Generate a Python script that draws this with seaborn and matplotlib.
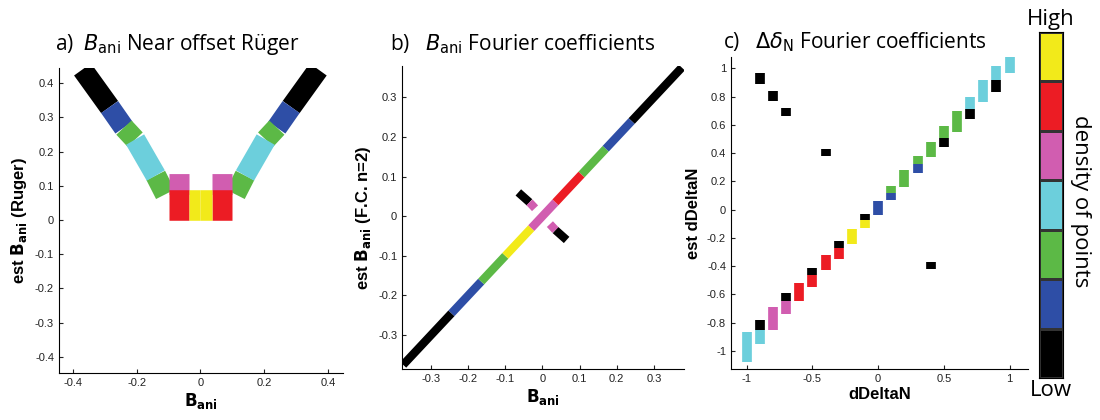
import numpy as np
import pandas as pd
import matplotlib
matplotlib.use("Agg")
import matplotlib.pyplot as plt
import seaborn as sns

COLORS = {"black": "#000000", "blue": "#2e4ea6", "green": "#5cb946", "cyan": "#6ccfdc",
          "magenta": "#d15db0", "red": "#ec1c24", "yellow": "#f2ea1a"}
level_order = ["black", "blue", "green", "cyan", "magenta", "red", "yellow"]

# Panel a: arm bands (x0, y0, x1, y1, colour) -- left arm; right arm mirrored
a_x0 = [-0.37, -0.285, -0.24, -0.205, -0.14, -0.10]
a_y0 = [0.44, 0.33, 0.27, 0.235, 0.13, 0.105]
a_x1 = [-0.285, -0.24, -0.205, -0.14, -0.11, -0.035]
a_y1 = [0.33, 0.27, 0.235, 0.13, 0.075, 0.105]
a_col = ["black", "blue", "green", "cyan", "green", "magenta"]
# Panel a: bottom blob
ab_x0 = [-0.10, -0.035]
ab_x1 = [-0.035, 0.0]
ab_y = [0.045, 0.045]
ab_col = ["red", "yellow"]

# Panel b: along the diagonal plus the short cross
b_x0 = [-0.375, -0.245, -0.165, -0.10, -0.03, 0.035, 0.105, 0.17, 0.24, -0.065, -0.035, 0.02, 0.035]
b_y0 = [-0.375, -0.245, -0.165, -0.10, -0.03, 0.035, 0.105, 0.17, 0.24, 0.06, 0.035, -0.02, -0.035]
b_x1 = [-0.245, -0.165, -0.10, -0.03, 0.035, 0.105, 0.17, 0.24, 0.375, -0.035, -0.02, 0.035, 0.065]
b_y1 = [-0.245, -0.165, -0.10, -0.03, 0.035, 0.105, 0.17, 0.24, 0.375, 0.035, 0.02, -0.035, -0.06]
b_col = ["black", "blue", "green", "yellow", "magenta", "red", "green", "blue", "black",
         "black", "magenta", "magenta", "black"]

# Panel c: vertical strips (x, y0, y1, colour)
c_x = [-1.0, -0.9, -0.9, -0.9, -0.8, -0.8, -0.7, -0.7, -0.7, -0.6, -0.5, -0.5, -0.4, -0.4,
       -0.3, -0.3, -0.2, -0.1, -0.1, 0.0, 0.1, 0.1, 0.2, 0.3, 0.3, 0.4, 0.4, 0.5, 0.5,
       0.6, 0.7, 0.7, 0.8, 0.9, 0.9, 1.0]
c_y0 = [-1.08, -0.95, -0.85, 0.89, -0.85, 0.77, -0.74, -0.65, 0.66, -0.65, -0.55, -0.46, -0.43, 0.38,
        -0.35, -0.27, -0.24, -0.13, -0.07, -0.04, 0.07, 0.12, 0.16, 0.26, 0.32, 0.37, -0.42, 0.44, 0.51,
        0.55, 0.64, 0.71, 0.76, 0.83, 0.92, 0.97]
c_y1 = [-0.87, -0.85, -0.78, 0.97, -0.69, 0.84, -0.65, -0.59, 0.72, -0.52, -0.46, -0.41, -0.32, 0.43,
        -0.27, -0.22, -0.14, -0.07, -0.03, 0.06, 0.12, 0.17, 0.28, 0.32, 0.38, 0.48, -0.37, 0.51, 0.59,
        0.70, 0.71, 0.80, 0.92, 0.92, 1.02, 1.13]
c_col = ["cyan", "cyan", "black", "black", "magenta", "black", "magenta", "black", "black", "red",
         "red", "black", "red", "black", "red", "black", "yellow", "yellow", "black", "blue",
         "blue", "green", "green", "blue", "green", "green", "black", "black", "green",
         "green", "black", "cyan", "cyan", "black", "cyan", "cyan"]

cbar_labels = ["Low", "High"]


def seg_frame(x0, y0, x1, y1, col):
    rows = []
    for i in range(len(x0)):
        rows.append((i, x0[i], y0[i], col[i]))
        rows.append((i, x1[i], y1[i], col[i]))
    return pd.DataFrame(rows, columns=["seg", "x", "y", "c"])


def draw(ax, df, lw):
    sns.lineplot(data=df, x="x", y="y", hue="c", units="seg", estimator=None, sort=False,
                 palette=COLORS, linewidth=lw, legend=False, ax=ax, solid_capstyle="butt")


fig = plt.figure(figsize=(11, 4.2), dpi=100)
lab_font = dict(family="Liberation Sans", weight="bold", size=12)
title_font = dict(family="Open Sans", size=15)

# ---- panel a
axa = fig.add_axes([0.0536, 0.112, 0.258, 0.726])
mx0 = [-v for v in a_x0]; mx1 = [-v for v in a_x1]
dfa = pd.concat([seg_frame(a_x0, a_y0, a_x1, a_y1, a_col),
                 seg_frame(mx0, a_y0, mx1, a_y1, a_col).assign(seg=lambda d: d.seg + 100)])
draw(axa, dfa, 15)
bx0 = [-v for v in ab_x0]; bx1 = [-v for v in ab_x1]
dfab = pd.concat([seg_frame(ab_x0, ab_y, ab_x1, ab_y, ab_col),
                  seg_frame(bx0, ab_y, bx1, ab_y, ab_col).assign(seg=lambda d: d.seg + 100)])
draw(axa, dfab, 22)
axa.set_xlim(-0.444, 0.447); axa.set_ylim(-0.447, 0.444)
axa.set_xticks([-0.4, -0.2, 0, 0.2, 0.4]); axa.set_xticklabels(["-0.4", "-0.2", "0", "0.2", "0.4"])
axa.set_yticks(np.round(np.arange(-0.4, 0.41, 0.1), 1))
axa.set_yticklabels(["-0.4", "-0.3", "-0.2", "-0.1", "0", "0.1", "0.2", "0.3", "0.4"])
axa.set_xlabel(r"$\mathbf{B_{ani}}$", **lab_font)
axa.set_ylabel(r"est $\mathbf{B_{ani}}$ (Ruger)", **lab_font)
fig.text(0.05, 0.88, r"a)  $\it{B}_{\rm ani}$ Near offset Rüger", **title_font)

# ---- panel b
axb = fig.add_axes([0.3655, 0.121, 0.256, 0.721])
draw(axb, seg_frame(b_x0, b_y0, b_x1, b_y1, b_col), 6)
axb.set_xlim(-0.378, 0.38); axb.set_ylim(-0.386, 0.378)
tb = [-0.3, -0.2, -0.1, 0, 0.1, 0.2, 0.3]
axb.set_xticks(tb); axb.set_xticklabels(["-0.3", "-0.2", "-0.1", "0", "0.1", "0.2", "0.3"])
axb.set_yticks(tb); axb.set_yticklabels(["-0.3", "-0.2", "-0.1", "0", "0.1", "0.2", "0.3"])
axb.set_xlabel(r"$\mathbf{B_{ani}}$", **lab_font)
axb.set_ylabel(r"est $\mathbf{B_{ani}}$ (F.C. n=2)", **lab_font)
fig.text(0.355, 0.88, r"b)   $\it{B}_{\rm ani}$ Fourier coefficients", **title_font)

# ---- panel c
axc = fig.add_axes([0.6645, 0.121, 0.27, 0.743])
draw(axc, seg_frame(c_x, c_y0, c_x, c_y1, c_col), 7)
axc.set_xlim(-1.12, 1.14); axc.set_ylim(-1.13, 1.08)
axc.set_xticks([-1, -0.5, 0, 0.5, 1]); axc.set_xticklabels(["-1", "-0.5", "0", "0.5", "1"])
yc = [-1, -0.8, -0.6, -0.4, -0.2, 0, 0.2, 0.4, 0.6, 0.8, 1]
axc.set_yticks(yc)
axc.set_yticklabels(["-1", "-0.8", "-0.6", "-0.4", "-0.2", "0", "0.2", "0.4", "0.6", "0.8", "1"])
axc.set_xlabel("dDeltaN", **lab_font)
axc.set_ylabel("est dDeltaN", **lab_font)
fig.text(0.657, 0.885, r"c)   $\Delta\delta_{\rm N}$ Fourier coefficients", **title_font)

for ax in (axa, axb, axc):
    sns.despine(ax=ax)
    ax.tick_params(direction="in", length=3, labelsize=8, colors="#222222")
    for lbl in ax.get_xticklabels() + ax.get_yticklabels():
        lbl.set_family("Liberation Sans")
    ax.xaxis.labelpad = 2

# ---- colorbar
axcb = fig.add_axes([0.9445, 0.1, 0.0218, 0.824])
grid = pd.DataFrame(np.arange(len(level_order))[::-1].reshape(-1, 1))
cmap = matplotlib.colors.ListedColormap([COLORS[c] for c in level_order])
sns.heatmap(grid, cmap=cmap, cbar=False, ax=axcb, linewidths=0.8, linecolor="#333333",
            xticklabels=False, yticklabels=False)
for s in axcb.spines.values():
    s.set_visible(True)
axcb.text(0.5, 1.005, cbar_labels[1], transform=axcb.transAxes, ha="center", va="bottom",
          family="Open Sans", size=16)
axcb.text(0.5, -0.005, cbar_labels[0], transform=axcb.transAxes, ha="center", va="top",
          family="Open Sans", size=16)
fig.text(0.982, 0.52, "density of points", rotation=-90, ha="center", va="center",
         family="Open Sans", size=16)

fig.savefig("out.png", dpi=100)
